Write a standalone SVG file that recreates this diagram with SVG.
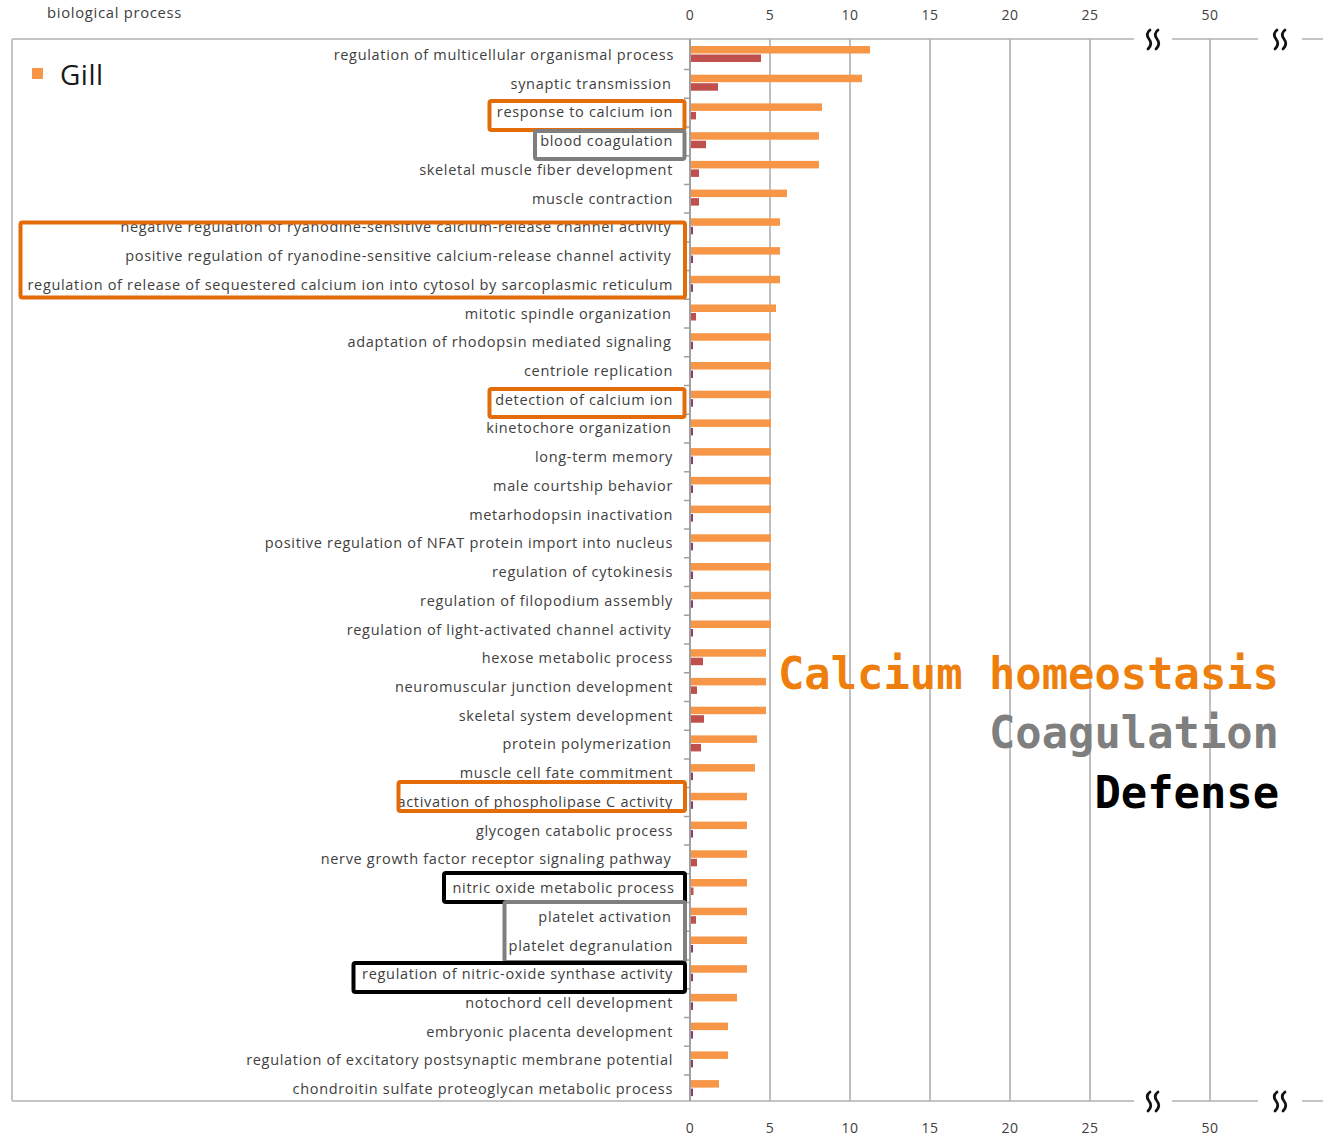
<svg xmlns="http://www.w3.org/2000/svg" width="1323" height="1136" viewBox="0 0 1323 1136">
<style>
.lbl{font-family:"Open Sans","Liberation Sans",sans-serif;font-size:14.5px;letter-spacing:0.68px;fill:#404040;text-anchor:end}
.num{font-family:"Open Sans","Liberation Sans",sans-serif;font-size:14px;letter-spacing:0.6px;fill:#404040;text-anchor:middle}
.o{fill:#f79646}
.r{fill:#c0504d}
.t{fill:#8c3f6b}
.grid{stroke:#b0b0b0;stroke-width:1.6;fill:none}
.frame{stroke:#c4c4c4;stroke-width:2;fill:none}
.tick{stroke:#a0a0a0;stroke-width:1.5}
.brk{stroke:#111;stroke-width:2.8;fill:none;stroke-linecap:round}
.hbo{fill:none;stroke:#e36c09;stroke-width:4}
.hbg{fill:none;stroke:#7f7f7f;stroke-width:4}
.hbk{fill:none;stroke:#000;stroke-width:4}
.cat{font-family:"DejaVu Sans Mono","Liberation Mono",monospace;font-weight:bold;font-size:43.8px;text-anchor:end}
</style>
<rect width="1323" height="1136" fill="#fff"/>
<g id="axes">
<text x="47" y="18" style="font-family:'Open Sans','Liberation Sans',sans-serif;font-size:14.8px;letter-spacing:0.7px;fill:#404040">biological process</text>
<path class="frame" d="M12,39V1101"/>
<path class="frame" d="M12,39H1134M1172,39H1258M1302,39H1323"/>
<path class="frame" d="M12,1101H1134M1172,1101H1258M1302,1101H1323"/>
<path class="grid" d="M770,39V1101M850,39V1101M930,39V1101M1010,39V1101M1090,39V1101M1210,39V1101"/>
<path d="M690,39V1101" stroke="#a0a0a0" stroke-width="2"/>
<path class="tick" d="M684,69.5H690M684,98.2H690M684,127H690M684,155.7H690M684,184.4H690M684,213.1H690M684,241.9H690M684,270.6H690M684,299.3H690M684,328H690M684,356.8H690M684,385.5H690M684,414.2H690M684,442.9H690M684,471.7H690M684,500.4H690M684,529.1H690M684,557.8H690M684,586.6H690M684,615.3H690M684,644H690M684,672.7H690M684,701.5H690M684,730.2H690M684,758.9H690M684,787.6H690M684,816.4H690M684,845.1H690M684,873.8H690M684,902.5H690M684,931.3H690M684,960H690M684,988.7H690M684,1017.4H690M684,1046.2H690M684,1074.9H690"/>
<g class="num">
<text x="690" y="20">0</text><text x="770" y="20">5</text><text x="850" y="20">10</text><text x="930" y="20">15</text><text x="1010" y="20">20</text><text x="1090" y="20">25</text><text x="1210" y="20">50</text>
<text x="690" y="1133">0</text><text x="770" y="1133">5</text><text x="850" y="1133">10</text><text x="930" y="1133">15</text><text x="1010" y="1133">20</text><text x="1090" y="1133">25</text><text x="1210" y="1133">50</text>
</g>
<path class="brk" d="M1150,30q-5,4-1,9q4,5-1,10M1158,30q-5,4-1,9q4,5-1,10"/>
<path class="brk" d="M1277,30q-5,4-1,9q4,5-1,10M1285,30q-5,4-1,9q4,5-1,10"/>
<path class="brk" d="M1150,1092q-5,4-1,9q4,5-1,10M1158,1092q-5,4-1,9q4,5-1,10"/>
<path class="brk" d="M1277,1092q-5,4-1,9q4,5-1,10M1285,1092q-5,4-1,9q4,5-1,10"/>
</g>
<g id="legend">
<rect x="32" y="68" width="11" height="11" fill="#f79646"/>
<text x="60" y="85" style="font-family:'Open Sans','Liberation Sans',sans-serif;font-size:28px;letter-spacing:0.5px;fill:#1a1a1a">Gill</text>
</g>
<g id="rows">
<g id="r1"><text class="lbl" x="674" y="60">regulation of multicellular organismal process</text><rect class="o" x="691" y="46" width="179" height="7.5"/><rect class="r" x="691" y="54.5" width="70" height="7.5"/></g>
<g id="r2"><text class="lbl" x="671.5" y="88.7">synaptic transmission</text><rect class="o" x="691" y="74.7" width="171" height="7.5"/><rect class="r" x="691" y="83.2" width="27" height="7.5"/></g>
<g id="r3"><text class="lbl" x="673" y="117.4">response to calcium ion</text><rect class="o" x="691" y="103.4" width="131" height="7.5"/><rect class="r" x="691" y="111.9" width="5" height="7.5"/></g>
<g id="r4"><text class="lbl" x="673" y="146.2">blood coagulation</text><rect class="o" x="691" y="132.2" width="128" height="7.5"/><rect class="r" x="691" y="140.7" width="15" height="7.5"/></g>
<g id="r5"><text class="lbl" x="673" y="174.9">skeletal muscle fiber development</text><rect class="o" x="691" y="160.9" width="128" height="7.5"/><rect class="r" x="691" y="169.4" width="8" height="7.5"/></g>
<g id="r6"><text class="lbl" x="673" y="203.6">muscle contraction</text><rect class="o" x="691" y="189.6" width="96" height="7.5"/><rect class="r" x="691" y="198.1" width="8" height="7.5"/></g>
<g id="r7"><text class="lbl" x="671.5" y="232.3">negative regulation of ryanodine-sensitive calcium-release channel activity</text><rect class="o" x="691" y="218.3" width="89" height="7.5"/><rect class="t" x="691" y="226.8" width="2" height="7.5"/></g>
<g id="r8"><text class="lbl" x="671.5" y="261.1">positive regulation of ryanodine-sensitive calcium-release channel activity</text><rect class="o" x="691" y="247.1" width="89" height="7.5"/><rect class="t" x="691" y="255.6" width="2" height="7.5"/></g>
<g id="r9"><text class="lbl" x="673" y="289.8">regulation of release of sequestered calcium ion into cytosol by sarcoplasmic reticulum</text><rect class="o" x="691" y="275.8" width="89" height="7.5"/><rect class="t" x="691" y="284.3" width="2" height="7.5"/></g>
<g id="r10"><text class="lbl" x="671.5" y="318.5">mitotic spindle organization</text><rect class="o" x="691" y="304.5" width="85" height="7.5"/><rect class="r" x="691" y="313" width="5" height="7.5"/></g>
<g id="r11"><text class="lbl" x="671.5" y="347.2">adaptation of rhodopsin mediated signaling</text><rect class="o" x="691" y="333.2" width="80" height="7.5"/><rect class="t" x="691" y="341.7" width="2" height="7.5"/></g>
<g id="r12"><text class="lbl" x="673" y="376">centriole replication</text><rect class="o" x="691" y="362" width="80" height="7.5"/><rect class="t" x="691" y="370.5" width="2" height="7.5"/></g>
<g id="r13"><text class="lbl" x="673" y="404.7">detection of calcium ion</text><rect class="o" x="691" y="390.7" width="80" height="7.5"/><rect class="t" x="691" y="399.2" width="2" height="7.5"/></g>
<g id="r14"><text class="lbl" x="671.5" y="433.4">kinetochore organization</text><rect class="o" x="691" y="419.4" width="80" height="7.5"/><rect class="t" x="691" y="427.9" width="2" height="7.5"/></g>
<g id="r15"><text class="lbl" x="673" y="462.1">long-term memory</text><rect class="o" x="691" y="448.1" width="80" height="7.5"/><rect class="t" x="691" y="456.6" width="2" height="7.5"/></g>
<g id="r16"><text class="lbl" x="673" y="490.9">male courtship behavior</text><rect class="o" x="691" y="476.9" width="80" height="7.5"/><rect class="t" x="691" y="485.4" width="2" height="7.5"/></g>
<g id="r17"><text class="lbl" x="673" y="519.6">metarhodopsin inactivation</text><rect class="o" x="691" y="505.6" width="80" height="7.5"/><rect class="t" x="691" y="514.1" width="2" height="7.5"/></g>
<g id="r18"><text class="lbl" x="673" y="548.3">positive regulation of NFAT protein import into nucleus</text><rect class="o" x="691" y="534.3" width="80" height="7.5"/><rect class="t" x="691" y="542.8" width="2" height="7.5"/></g>
<g id="r19"><text class="lbl" x="673" y="577">regulation of cytokinesis</text><rect class="o" x="691" y="563" width="80" height="7.5"/><rect class="t" x="691" y="571.5" width="2" height="7.5"/></g>
<g id="r20"><text class="lbl" x="673" y="605.8">regulation of filopodium assembly</text><rect class="o" x="691" y="591.8" width="80" height="7.5"/><rect class="t" x="691" y="600.3" width="2" height="7.5"/></g>
<g id="r21"><text class="lbl" x="671.5" y="634.5">regulation of light-activated channel activity</text><rect class="o" x="691" y="620.5" width="80" height="7.5"/><rect class="t" x="691" y="629" width="2" height="7.5"/></g>
<g id="r22"><text class="lbl" x="673" y="663.2">hexose metabolic process</text><rect class="o" x="691" y="649.2" width="75" height="7.5"/><rect class="r" x="691" y="657.7" width="12" height="7.5"/></g>
<g id="r23"><text class="lbl" x="673" y="691.9">neuromuscular junction development</text><rect class="o" x="691" y="677.9" width="75" height="7.5"/><rect class="r" x="691" y="686.4" width="6" height="7.5"/></g>
<g id="r24"><text class="lbl" x="673" y="720.7">skeletal system development</text><rect class="o" x="691" y="706.7" width="75" height="7.5"/><rect class="r" x="691" y="715.2" width="13" height="7.5"/></g>
<g id="r25"><text class="lbl" x="671.5" y="749.4">protein polymerization</text><rect class="o" x="691" y="735.4" width="66" height="7.5"/><rect class="r" x="691" y="743.9" width="10" height="7.5"/></g>
<g id="r26"><text class="lbl" x="673" y="778.1">muscle cell fate commitment</text><rect class="o" x="691" y="764.1" width="64" height="7.5"/><rect class="t" x="691" y="772.6" width="2" height="7.5"/></g>
<g id="r27"><text class="lbl" x="673" y="806.8">activation of phospholipase C activity</text><rect class="o" x="691" y="792.8" width="56" height="7.5"/><rect class="t" x="691" y="801.3" width="2" height="7.5"/></g>
<g id="r28"><text class="lbl" x="673" y="835.6">glycogen catabolic process</text><rect class="o" x="691" y="821.6" width="56" height="7.5"/><rect class="t" x="691" y="830.1" width="2" height="7.5"/></g>
<g id="r29"><text class="lbl" x="671.5" y="864.3">nerve growth factor receptor signaling pathway</text><rect class="o" x="691" y="850.3" width="56" height="7.5"/><rect class="r" x="691" y="858.8" width="6" height="7.5"/></g>
<g id="r30"><text class="lbl" x="674.5" y="893">nitric oxide metabolic process</text><rect class="o" x="691" y="879" width="56" height="7.5"/><rect class="r" x="691" y="887.5" width="2.5" height="7.5"/></g>
<g id="r31"><text class="lbl" x="671.5" y="921.7">platelet activation</text><rect class="o" x="691" y="907.7" width="56" height="7.5"/><rect class="r" x="691" y="916.2" width="5" height="7.5"/></g>
<g id="r32"><text class="lbl" x="673" y="950.5">platelet degranulation</text><rect class="o" x="691" y="936.5" width="56" height="7.5"/><rect class="t" x="691" y="945" width="2" height="7.5"/></g>
<g id="r33"><text class="lbl" x="673" y="979.2">regulation of nitric-oxide synthase activity</text><rect class="o" x="691" y="965.2" width="56" height="7.5"/><rect class="t" x="691" y="973.7" width="2" height="7.5"/></g>
<g id="r34"><text class="lbl" x="673" y="1007.9">notochord cell development</text><rect class="o" x="691" y="993.9" width="46" height="7.5"/><rect class="t" x="691" y="1002.4" width="2" height="7.5"/></g>
<g id="r35"><text class="lbl" x="673" y="1036.6">embryonic placenta development</text><rect class="o" x="691" y="1022.6" width="37" height="7.5"/><rect class="t" x="691" y="1031.1" width="2" height="7.5"/></g>
<g id="r36"><text class="lbl" x="673" y="1065.4">regulation of excitatory postsynaptic membrane potential</text><rect class="o" x="691" y="1051.4" width="37" height="7.5"/><rect class="t" x="691" y="1059.9" width="2" height="7.5"/></g>
<g id="r37"><text class="lbl" x="673" y="1094.1">chondroitin sulfate proteoglycan metabolic process</text><rect class="o" x="691" y="1080.1" width="28" height="7.5"/><rect class="t" x="691" y="1088.6" width="2" height="7.5"/></g>
</g>
<g id="highlights">
<rect class="hbo" x="489.5" y="101" width="195" height="29" rx="2"/>
<rect class="hbg" x="535" y="131" width="149.5" height="28" rx="2"/>
<rect class="hbo" x="20.5" y="222.5" width="664.5" height="75" rx="2"/>
<rect class="hbo" x="489.5" y="389" width="195" height="28" rx="2"/>
<rect class="hbo" x="398.5" y="782" width="286.5" height="29" rx="2"/>
<rect class="hbk" x="444" y="873" width="241" height="29" rx="2"/>
<rect class="hbg" x="504.5" y="902" width="180.5" height="60" rx="2"/>
<rect class="hbk" x="353.5" y="963" width="331.5" height="29" rx="2"/>
</g>
<g id="categories">
<text class="cat" x="1279" y="689" fill="#ee7f0d">Calcium homeostasis</text>
<text class="cat" x="1279" y="748" fill="#7f7f7f">Coagulation</text>
<text class="cat" x="1279" y="808" fill="#000">Defense</text>
</g>
</svg>
